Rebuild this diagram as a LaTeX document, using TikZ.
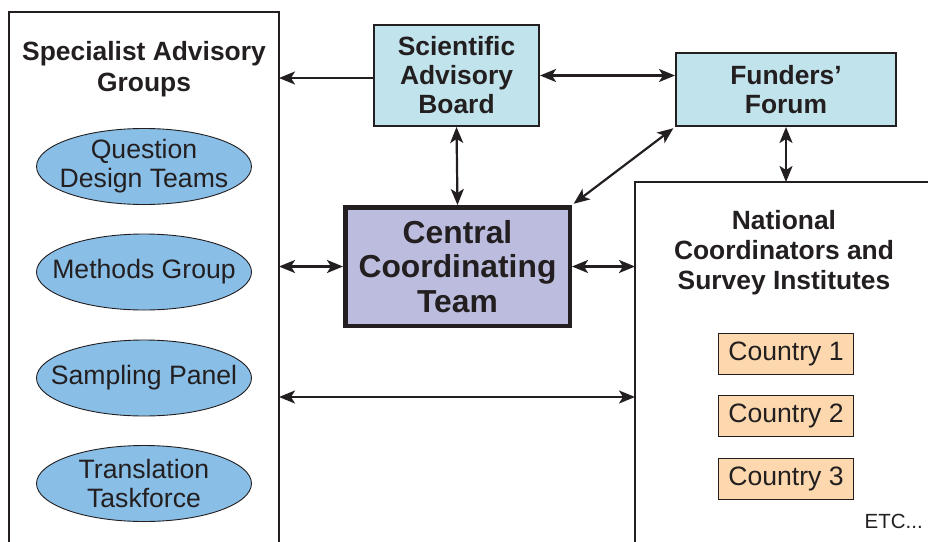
\documentclass[tikz,border=0pt]{standalone}
\usepackage{fontspec}
\setmainfont{Liberation Sans}
\usetikzlibrary{arrows.meta,shapes.geometric}

\definecolor{ink}{RGB}{35,31,32}
\definecolor{boardblue}{RGB}{193,228,236}
\definecolor{teamlilac}{RGB}{188,189,222}
\definecolor{groupblue}{RGB}{137,190,230}
\definecolor{countrypeach}{RGB}{253,216,174}

\begin{document}
\begin{tikzpicture}[x=1pt, y=-1pt, >={Stealth[length=16pt,width=13pt,inset=4pt]}]
	\tikzstyle{every node}=[font=\fontsize{26.6}{29}\selectfont, text=ink, inner sep=0pt, align=center]
	\tikzstyle{board}=[draw=ink, line width=2pt, fill=boardblue, font=\fontsize{26.4}{29}\selectfont\bfseries]
	\tikzstyle{group}=[ellipse, draw=ink, line width=0.9pt, fill=groupblue, inner xsep=-24pt, inner ysep=-8pt, minimum width=215, minimum height=76]
	\tikzstyle{country}=[draw=ink, line width=1pt, fill=countrypeach, minimum width=135, minimum height=41]
	\tikzstyle{frame}=[draw=ink, line width=2pt]
	\tikzstyle{link}=[draw=ink, line width=2.2pt]

	\clip (0,0) rectangle (928,541);

	%frames
	\coordinate (sag nw) at (9,12);
	\coordinate (sag ne) at (279,12);
	\coordinate (nci nw) at (635,182);
	\draw[frame] (sag nw) ++(0,550) -- (sag nw) -- (sag ne) -- ++(0,550);
	\draw[frame] (nci nw) ++(0,400) -- (nci nw) -- ++(320,0);

	%headings
	\node[font=\fontsize{26.4}{30.5}\selectfont\bfseries] (sag title) at (144,69) {Specialist Advisory\\Groups};
	\node[font=\fontsize{26.4}{30}\selectfont\bfseries] (nci title) at (784,252.5) {National\\Coordinators and\\Survey Institutes};

	%boards
	\node[board, minimum width=165, minimum height=101] (sab) at (456.5,75.5) {Scientific\\Advisory\\Board};
	\node[board, minimum width=220, minimum height=73] (ff) at (786,89.5) {Funders’\\Forum};
	\node[draw=ink, line width=4.5pt, fill=teamlilac, minimum width=224.5, minimum height=118.5,
		font=\fontsize{31.8}{34.5}\selectfont\bfseries] (ctt) at (457.5,266.5) {Central\\Coordinating\\Team};

	%groups
	\foreach \name/\y/\txt in {qdt/166.5/{Question\\Design Teams}, mg/272/{Methods Group},
		sp/378/{Sampling Panel}, tt/483.5/{Translation\\Taskforce}}
		\node[group] (\name) at (144,\y) {\txt};

	%countries
	\foreach \i in {1,2,3}
		\node[country] (country\i) at (786,{290.7+62.8*\i}) {Country \i};
	\node[font=\fontsize{20.5}{24}\selectfont, anchor=east] (etc) at (923,521) {ETC...};

	%arrows
	\coordinate (low link) at (457,397);
	\draw[link, ->] (sab.west |- 0,78) -- (sag ne |- 0,78);
	\draw[link, <->] (sab.east) -- (sab.east -| ff.west);
	\draw[link, <->] (sab.south) -- (ctt.north);
	\draw[link, <->, shorten <=2pt, shorten >=2pt] (ctt.north east) -- (ff.south west);
	\draw[link, <->] (ff.south) -- (ff.south |- nci nw);
	\draw[link, <->] (ctt.west) -- (ctt.west -| sag ne);
	\draw[link, <->] (ctt.east) -- (ctt.east -| nci nw);
	\draw[link, <->] (low link -| sag ne) -- (low link -| nci nw);
\end{tikzpicture}
\end{document}
